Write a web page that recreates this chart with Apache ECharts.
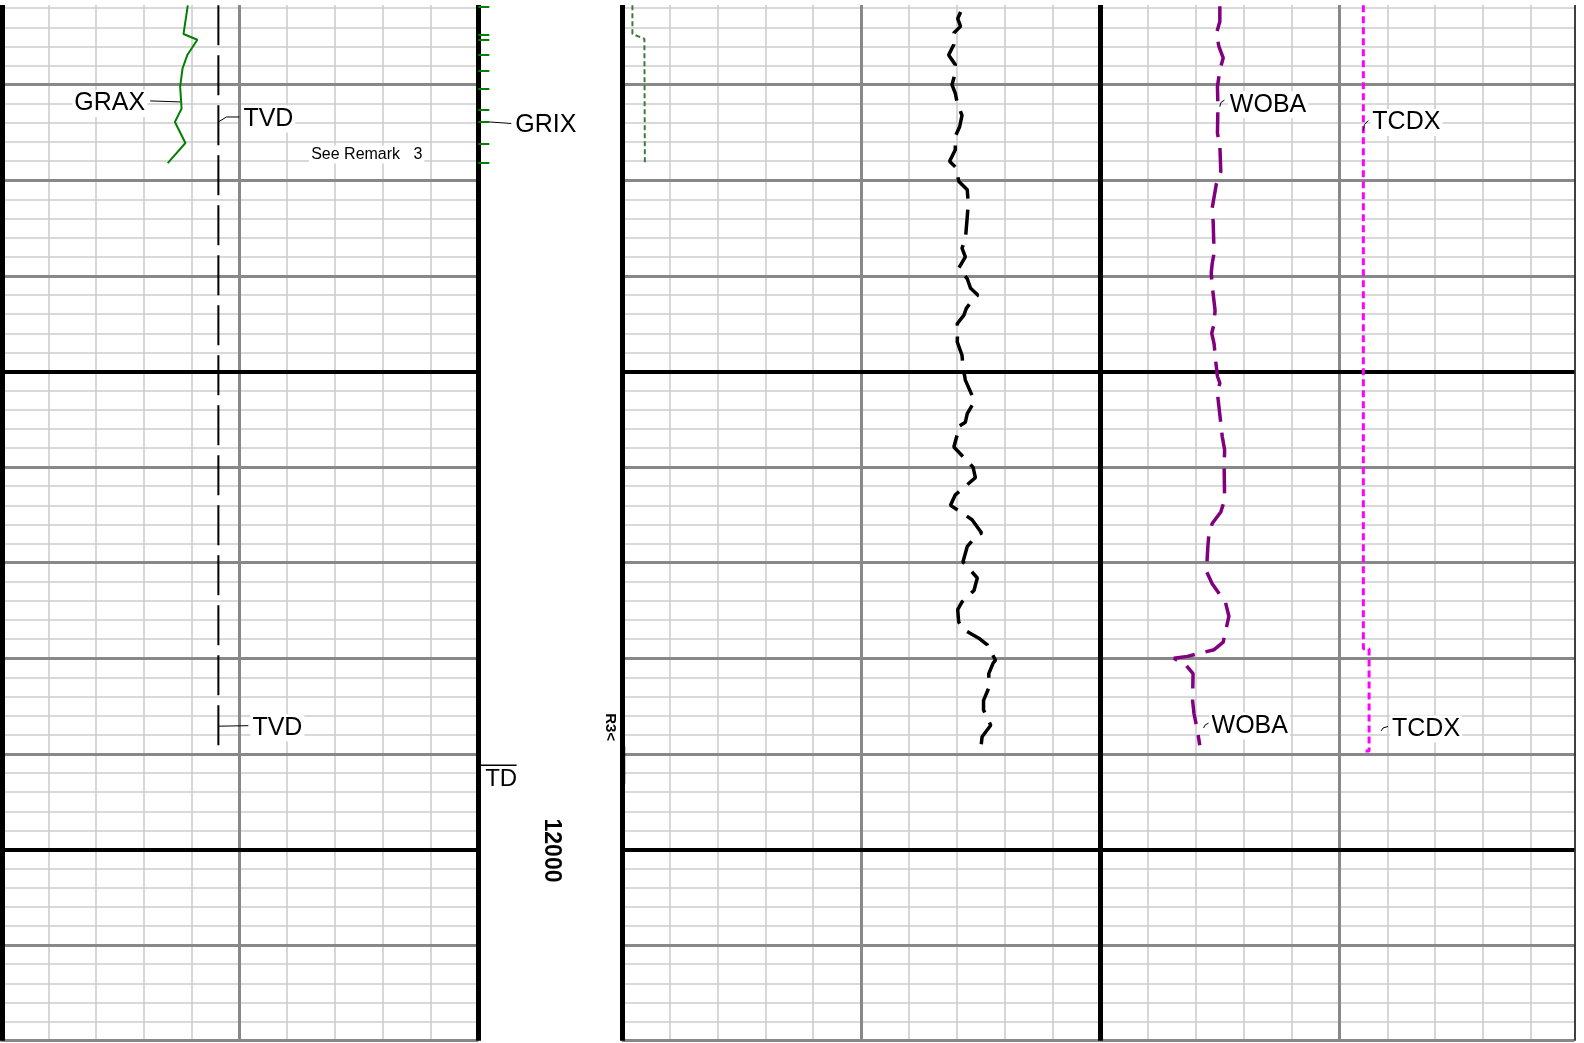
<!DOCTYPE html>
<html>
<head>
<meta charset="utf-8">
<title>Log plot</title>
<script src="https://cdn.jsdelivr.net/npm/echarts@6/dist/echarts.min.js"></script>
<style>
  html, body { margin: 0; padding: 0; background: #fff; }
  #chart { width: 1584px; height: 1043px; }
</style>
</head>
<body>
<div id="chart"></div>
<script>
// depth scale (ft), top of sheet is cut by a white strip
const depthMin = 11100;
const depthMax = 12200;
const thickDepths = [11500, 12000];
const depthLabel = 12000;
const tdDepth = 11912;
const remarkDepth = 11872;
const remarkBar = [11892, 11931];

// track 1
const graxVal = [39.2, 38.3, 41.2, 39.1, 38.1, 37.6, 37.9, 36.5, 38.7, 35.0];
const graxDepth = [11117, 11147, 11153, 11169, 11183, 11202, 11225, 11239, 11261, 11282];
const tvdVal = [45.6, 45.6];
const tvdDepth = [11117, 11891];

// GRIX: off-scale ticks on the depth track edge
const grixDepth = [11118, 11148, 11153, 11169, 11185, 11204, 11226, 11239, 11262, 11282];

// track 2
const greenVal = [2.2, 2.2, 4.7, 4.8];
const greenDepth = [11117, 11147, 11152, 11282];

const blackVal = [70.8, 70.2, 70.8, 69.4, 69.4, 68.3, 69.7, 69.4, 69.0, 69.7,
  70.1, 71.1, 70.6, 69.7, 69.7, 68.5, 69.9, 70.4, 72.2, 72.4,
  72.2, 71.8, 71.1, 71.8, 70.4, 72.2, 72.9, 74.4, 73.6, 72.0,
  71.5, 70.1, 70.2, 70.1, 71.1, 71.3, 71.8, 73.2, 73.6, 72.2,
  71.8, 70.2, 70.1, 69.4, 73.4, 73.9, 69.7, 68.7, 73.2, 75.2,
  74.3, 72.2, 71.3, 72.9, 74.3, 73.6, 71.1, 70.2, 70.4, 71.5,
  74.6, 76.4, 78.1, 77.6, 76.7, 76.7, 75.6, 75.6, 77.1, 75.3,
  75.1];
const blackDepth = [11124, 11131, 11139, 11146, 11158, 11169, 11179, 11193, 11200, 11209,
  11219, 11232, 11244, 11254, 11268, 11280, 11287, 11301, 11310, 11324,
  11338, 11362, 11371, 11380, 11392, 11403, 11413, 11420, 11423, 11434,
  11441, 11450, 11457, 11469, 11483, 11495, 11509, 11525, 11532, 11544,
  11553, 11558, 11566, 11579, 11600, 11611, 11629, 11640, 11655, 11669,
  11671, 11683, 11699, 11708, 11716, 11729, 11741, 11749, 11762, 11770,
  11779, 11786, 11802, 11805, 11816, 11831, 11844, 11854, 11870, 11882,
  11891];

const wobaVal = [125.0, 125.0, 124.3, 124.8, 125.7, 125.0, 124.5, 124.6, 124.5, 125.0,
  125.2, 124.3, 123.4, 123.6, 123.8, 123.4, 123.2, 123.4, 124.0, 123.8,
  123.3, 123.8, 124.1, 124.5, 125.0, 124.5, 125.2, 125.5, 126.0, 125.9,
  126.0, 125.2, 123.4, 122.7, 122.5, 122.2, 123.4, 126.2, 126.9, 125.7,
  123.8, 118.2, 115.4, 117.9, 119.4, 119.3, 119.6, 120.3, 120.8];
const wobaDepth = [11118, 11134, 11146, 11160, 11172, 11185, 11202, 11223, 11251, 11263,
  11291, 11303, 11329, 11343, 11376, 11387, 11397, 11410, 11436, 11450,
  11460, 11471, 11488, 11505, 11512, 11523, 11554, 11568, 11582, 11600,
  11634, 11647, 11659, 11671, 11683, 11709, 11722, 11742, 11756, 11783,
  11791, 11798, 11800, 11807, 11816, 11844, 11858, 11875, 11891];

const tcdxVal = [155.0, 155.0, 156.2, 156.2, 155.0];
const tcdxDepth = [11117, 11790, 11790, 11897, 11897];

const FONT = '"Liberation Sans", Arial, sans-serif';
const LIGHT = '#cdcdcd';
const MID = '#888888';
const TEXT_DY = 2; // canvas 'middle' sits a bit high for caps-only labels

const pairs = (vals, depths) => depths.map((d, i) => [vals[i], d]);

function xAx(grid, max, interval, color, width, z) {
  return {
    gridIndex: grid, type: 'value', min: 0, max: max, interval: interval, z: z,
    axisLine: { show: false }, axisTick: { show: false }, axisLabel: { show: false },
    splitLine: { show: !!color, showMaxLine: false, lineStyle: { color: color || '#000', width: width } }
  };
}
function yAx(grid, interval, color, width, z) {
  return {
    gridIndex: grid, type: 'value', inverse: true, min: depthMin, max: depthMax, interval: interval, z: z,
    axisLine: { show: false }, axisTick: { show: false }, axisLabel: { show: false },
    splitLine: { show: !!color, lineStyle: { color: color || '#000', width: width } }
  };
}

function frame(ax, verticals) {
  return {
    type: 'line', xAxisIndex: ax, yAxisIndex: ax, data: [], clip: false, z: 3, silent: true,
    markLine: {
      silent: true, symbol: ['none', 'none'], animation: false, label: { show: false },
      data: thickDepths.map(d => ({ yAxis: d, lineStyle: { color: '#000', width: 4, type: 'solid' } }))
        .concat(verticals)
    }
  };
}

function curve(name, ax, data, color, width, dash) {
  return {
    name: name, type: 'line', xAxisIndex: ax, yAxisIndex: ax, data: data,
    symbol: 'none', showSymbol: false, z: 5, silent: true,
    lineStyle: { color: color, width: width, type: dash || 'solid' }
  };
}

const option = {
  animation: false,
  backgroundColor: '#fff',
  grid: [
    { left: 0.5, top: -10.9, width: 477.8, height: 1051.6, outerBoundsMode: 'none' },
    { left: 621.9, top: -10.9, width: 952.4, height: 1051.6, outerBoundsMode: 'none' },
    { left: 478.3, top: -10.9, width: 143.6, height: 1051.6, outerBoundsMode: 'none' }
  ],
  xAxis: [
    xAx(0, 100, 10, LIGHT, 1.6, 1),
    xAx(0, 100, 50, MID, 3, 2),
    xAx(1, 199.1, 10, LIGHT, 1.6, 1),
    xAx(1, 199.1, 50, MID, 3, 2),
    xAx(2, 30, 10, null, 1, 0)
  ],
  yAxis: [
    yAx(0, 20, LIGHT, 1.6, 1),
    yAx(0, 100, MID, 3, 2),
    yAx(1, 20, LIGHT, 1.6, 1),
    yAx(1, 100, MID, 3, 2),
    yAx(2, 100, null, 1, 0)
  ],
  series: [
    curve('GRAX', 0, pairs(graxVal, graxDepth), '#008000', 2),
    curve('TVD', 0, pairs(tvdVal, tvdDepth), '#000', 2, [40, 10]),
    frame(0, [
      { xAxis: 0, lineStyle: { color: '#000', width: 9, type: 'solid' } },
      { xAxis: 100, lineStyle: { color: '#000', width: 5, type: 'solid' } }
    ]),
    curve('GR2', 2, pairs(greenVal, greenDepth), '#3b7a3b', 2, [5, 3]),
    curve('BLK', 2, pairs(blackVal, blackDepth), '#000', 3.5, [25, 11]),
    curve('WOBA', 2, pairs(wobaVal, wobaDepth), '#800080', 3.5, [25, 11]),
    curve('TCDX', 2, pairs(tcdxVal, tcdxDepth), '#ff00ff', 3, [7, 4]),
    frame(2, [
      { xAxis: 0, lineStyle: { color: '#000', width: 5, type: 'solid' } },
      { xAxis: 100, lineStyle: { color: '#000', width: 5, type: 'solid' } },
      { xAxis: 199.1, lineStyle: { color: '#000', width: 1.5, type: 'solid' } }
    ]),
    {
      name: 'GRIX', type: 'lines', coordinateSystem: 'cartesian2d', xAxisIndex: 4, yAxisIndex: 4,
      z: 5, silent: true,
      data: grixDepth.map(d => ({ coords: [[0, d], [2.3, d]] })),
      lineStyle: { color: '#008000', width: 2, opacity: 1, curveness: 0 }
    }
  ]
};

const chart = echarts.init(document.getElementById('chart'), null, { renderer: 'canvas' });
chart.setOption(option);

const P = (ax, x, d) => chart.convertToPixel({ xAxisIndex: ax, yAxisIndex: ax }, [x, d]);

// curve labels: anchor on the curve, leader offsets, text offset
const labels = [
  { text: 'GRAX', ax: 0, x: 37.6, d: 11218, lead: [[0, 0], [-30, -1]], tx: -33, ty: -0.5, align: 'right' },
  { text: 'TVD', ax: 0, x: 45.6, d: 11239, lead: [[0, 0], [8, -5], [21, -5]], tx: 23, ty: -5, align: 'left' },
  { text: 'TVD', ax: 0, x: 45.6, d: 11871, lead: [[0, 0], [30, -0.5]], tx: 32, ty: -0.5, align: 'left' },
  { text: 'GRIX', ax: 4, x: 2.3, d: 11239, lead: [[0, 0], [22, 1.5]], tx: 24, ty: 1, align: 'left' },
  { text: 'WOBA', ax: 2, x: 125.0, d: 11223, lead: [[0, 0], [1, -4], [4.6, -6.7]], tx: 8, ty: -4, align: 'left' },
  { text: 'TCDX', ax: 2, x: 155.0, d: 11248, lead: [[0, 0], [1, -6], [5, -10]], tx: 7, ty: -10, align: 'left' },
  { text: 'WOBA', ax: 2, x: 121.6, d: 11873, lead: [[0, 0], [1.5, -3], [5, -5]], tx: 6, ty: -4, align: 'left' },
  { text: 'TCDX', ax: 2, x: 158.7, d: 11876, lead: [[0, 0], [2, -3], [7, -4.5]], tx: 9, ty: -4, align: 'left' }
];

const graphic = [];
labels.forEach(l => {
  const p = P(l.ax, l.x, l.d);
  graphic.push({
    type: 'text', x: p[0] + l.tx, y: p[1] + l.ty + TEXT_DY, z: 20, silent: true,
    style: { text: l.text, font: '25px ' + FONT, fill: '#000', align: l.align, verticalAlign: 'middle',
      backgroundColor: '#fff', padding: [1, 2] }
  });
  graphic.push({
    type: 'polyline', z: 21, silent: true,
    shape: { points: l.lead.map(o => [p[0] + o[0], p[1] + o[1]]) },
    style: { stroke: '#000', lineWidth: 1, fill: null }
  });
});

// remark text in track 1
const rm = P(0, 64.6, 11272);
graphic.push({
  type: 'text', x: rm[0], y: rm[1] + 1, z: 20, silent: true,
  style: { text: 'See Remark   3', font: '16px ' + FONT, fill: '#000', align: 'left', verticalAlign: 'middle',
    backgroundColor: '#fff', padding: [1, 2] }
});

// depth track: TD marker, depth number, remark flag
const td0 = P(4, 0.4, tdDepth), td1 = P(4, 8.0, tdDepth);
graphic.push({ type: 'line', z: 20, silent: true,
  shape: { x1: td0[0], y1: td0[1], x2: td1[0], y2: td1[1] }, style: { stroke: '#000', lineWidth: 1.5 } });
graphic.push({ type: 'text', x: td0[0] + 5, y: td0[1] + 14, z: 20, silent: true,
  style: { text: 'TD', font: '24px ' + FONT, fill: '#000', align: 'left', verticalAlign: 'middle' } });

const dl = P(4, 15.3, depthLabel);
graphic.push({ type: 'text', x: dl[0], y: dl[1] + 1, rotation: -Math.PI / 2, z: 20, silent: true,
  style: { text: String(depthLabel), font: 'bold 23px ' + FONT, fill: '#000', align: 'center', verticalAlign: 'middle' } });

const r3 = P(4, 27.5, remarkDepth);
graphic.push({ type: 'text', x: r3[0], y: r3[1], rotation: -Math.PI / 2, z: 20, silent: true,
  style: { text: 'R3<', font: 'bold 15px ' + FONT, fill: '#000', align: 'center', verticalAlign: 'middle' } });

const rb0 = P(2, 0, remarkBar[0]), rb1 = P(2, 0, remarkBar[1]);
graphic.push({ type: 'line', z: 20, silent: true,
  shape: { x1: rb0[0] + 1.8, y1: rb0[1], x2: rb1[0] + 1.8, y2: rb1[1] }, style: { stroke: '#000', lineWidth: 3 } });

// white strip at the top edge of the sheet
graphic.push({ type: 'rect', z: 50, silent: true, shape: { x: 0, y: 0, width: 1584, height: 5 }, style: { fill: '#fff' } });

chart.setOption({ graphic: graphic });
</script>
</body>
</html>
